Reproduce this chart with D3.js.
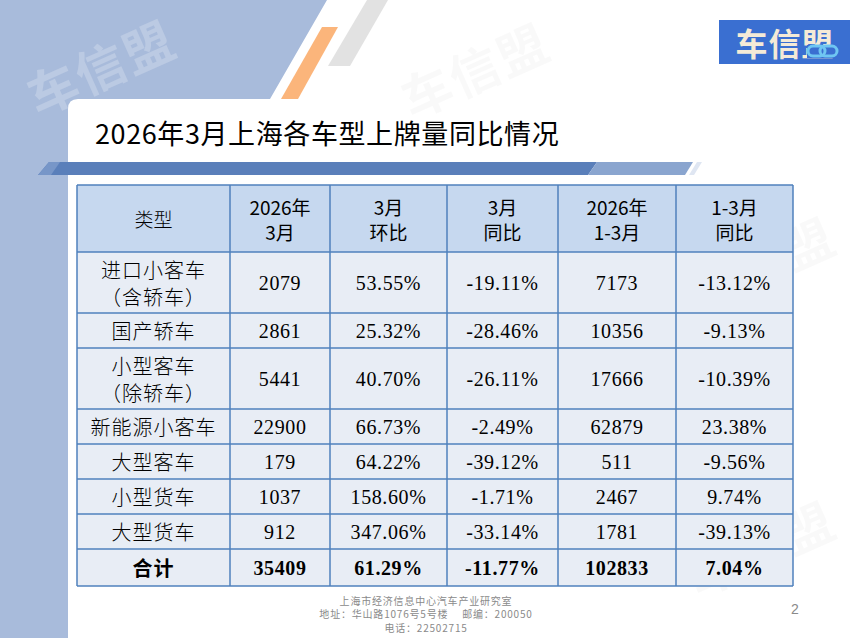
<!DOCTYPE html>
<html lang="zh">
<head>
<meta charset="UTF-8">
<title>2026年3月上海各车型上牌量同比情况</title>
<script src="https://cdn.jsdelivr.net/npm/d3@7/dist/d3.min.js"></script>
<style>
	body { margin: 0; background: #fff; }
	svg { display: block; }
	.cjk { font-family: "Noto Sans CJK SC", "Noto Sans", sans-serif; }
	.num { font-family: "Liberation Serif", "Times New Roman", serif; }
</style>
</head>
<body>
<div id="container"></div>
<script>
	// table data
	var title = "2026年3月上海各车型上牌量同比情况";
	var headers = [["类型"], ["2026年", "3月"], ["3月", "环比"], ["3月", "同比"], ["2026年", "1-3月"], ["1-3月", "同比"]];
	var categories = [["进口小客车", "（含轿车）"], ["国产轿车"], ["小型客车", "（除轿车）"], ["新能源小客车"],
		["大型客车"], ["小型货车"], ["大型货车"], ["合计"]];
	var marCount = [2079, 2861, 5441, 22900, 179, 1037, 912, 35409];
	var marMoM = [53.55, 25.32, 40.70, 66.73, 64.22, 158.60, 347.06, 61.29];
	var marYoY = [-19.11, -28.46, -26.11, -2.49, -39.12, -1.71, -33.14, -11.77];
	var ytdCount = [7173, 10356, 17666, 62879, 511, 2467, 1781, 102833];
	var ytdYoY = [-13.12, -9.13, -10.39, 23.38, -9.56, 9.74, -39.13, 7.04];
	var footer = ["上海市经济信息中心汽车产业研究室", "地址：华山路1076号5号楼　 邮编：200050", "电话：22502715"];
	var pageNo = "2";

	var width = 850, height = 638;
	var svg = d3.select("#container").append("svg")
		.attr("width", width)
		.attr("height", height);

	// slide background
	svg.append("rect").attr("width", width).attr("height", height).attr("fill", "#fff");
	svg.append("polygon")
		.attr("points", [[0, 0], [327, 0], [270, 99], [270, height], [0, height]].join(" "))
		.attr("fill", "#a8bbdb");
	svg.append("polygon")
		.attr("points", [[367, 0], [388, 0], [350, 66], [328, 66]].join(" "))
		.attr("fill", "#e2e2e2");
	svg.append("polygon")
		.attr("points", [[322, 27], [338, 27], [298, 99], [281, 99]].join(" "))
		.attr("fill", "#fbb57b");

	function watermark(cx, cy, fill, op) {
		svg.append("text")
			.attr("class", "cjk")
			.attr("transform", "translate(" + cx + "," + cy + ") rotate(-24)")
			.attr("text-anchor", "middle")
			.attr("dominant-baseline", "central")
			.attr("font-size", 50)
			.attr("font-weight", "bold")
			.attr("letter-spacing", 2)
			.attr("fill", fill)
			.attr("fill-opacity", op)
			.text("车信盟");
	}
	watermark(100, 65, "#ffffff", 0.22);

	// white card with rounded top-left corner
	var r = 10;
	svg.append("path")
		.attr("d", "M68," + height + " L68," + (99 + r) + " Q68,99 " + (68 + r) + ",99 L" + width + ",99 L" + width + "," + height + " Z")
		.attr("fill", "#fff");

	watermark(474, 68, "#000", 0.022);
	watermark(760, 262, "#000", 0.022);
	watermark(760, 546, "#000", 0.022);

	// logo
	var logo = svg.append("g");
	logo.append("rect").attr("x", 719).attr("y", 20).attr("width", 131).attr("height", 44).attr("fill", "#3a6fd1");
	logo.append("text")
		.attr("class", "cjk")
		.attr("x", 785).attr("y", 42)
		.attr("text-anchor", "middle")
		.attr("dominant-baseline", "central")
		.attr("font-size", 32)
		.attr("font-weight", "bold")
		.attr("letter-spacing", 1)
		.attr("fill", "#f4ead7")
		.text("车信盟");
	logo.append("rect").attr("x", 807).attr("y", 45).attr("width", 36).attr("height", 13).attr("fill", "#3a6fd1");
	logo.append("rect").attr("x", 808).attr("y", 46).attr("width", 17).attr("height", 10).attr("rx", 5)
		.attr("fill", "none").attr("stroke", "#6fc6f2").attr("stroke-width", 3);
	logo.append("rect").attr("x", 820).attr("y", 46).attr("width", 17).attr("height", 10).attr("rx", 5)
		.attr("fill", "none").attr("stroke", "#6fc6f2").attr("stroke-width", 3);

	// title
	svg.append("text")
		.attr("class", "cjk")
		.attr("x", 95).attr("y", 144)
		.attr("font-size", 27)
		.attr("letter-spacing", 0.6)
		.attr("fill", "#000")
		.text(title);

	// title band
	svg.append("polygon")
		.attr("points", [[49, 162], [597, 162], [588, 175], [38, 175]].join(" "))
		.attr("fill", "#5a7fba");
	svg.append("polygon")
		.attr("points", [[49, 162], [60, 162], [51, 175], [38, 175]].join(" "))
		.attr("fill", "#7796c8");
	svg.append("polygon")
		.attr("points", [[597, 162], [693, 162], [685, 175], [588, 175]].join(" "))
		.attr("fill", "#8aa5cf");
	svg.append("polygon")
		.attr("points", [[697, 162], [702, 162], [694, 175], [689, 175]].join(" "))
		.attr("fill", "#dfe6f2");

	// table geometry
	var colWidths = [153, 100, 117, 111, 118, 117];
	var tableX = 77, tableY = 185;
	var colEdges = [tableX].concat(Array.from(d3.cumsum(colWidths), function(d) { return tableX + d; }));

	var rows = categories.map(function(c, i) {
		return {
			cells: [c, [String(marCount[i])], [marMoM[i].toFixed(2) + "%"], [marYoY[i].toFixed(2) + "%"],
				[String(ytdCount[i])], [ytdYoY[i].toFixed(2) + "%"]],
			lines: c.length,
			total: i === categories.length - 1
		};
	});
	var rowHeights = [67].concat(rows.map(function(d) { return d.lines > 1 ? 61 : (d.total ? 37 : 35); }));
	var rowEdges = [tableY].concat(Array.from(d3.cumsum(rowHeights), function(d) { return tableY + d; }));

	var x = function(j) { return colEdges[j]; };
	var y = function(i) { return rowEdges[i]; };

	var table = svg.append("g");

	// fills
	table.append("rect")
		.attr("x", x(0)).attr("y", y(0))
		.attr("width", x(6) - x(0)).attr("height", y(1) - y(0))
		.attr("fill", "#c6d8ef");
	table.append("rect")
		.attr("x", x(0)).attr("y", y(1))
		.attr("width", x(6) - x(0)).attr("height", y(rows.length + 1) - y(1))
		.attr("fill", "#e8edf5");

	// grid lines
	table.selectAll("line.h").data(rowEdges).enter().append("line")
		.attr("class", "h")
		.attr("x1", x(0)).attr("x2", x(6))
		.attr("y1", function(d) { return d; }).attr("y2", function(d) { return d; })
		.attr("stroke", "#4f81bd").attr("stroke-width", 1.5);
	table.selectAll("line.v").data(colEdges).enter().append("line")
		.attr("class", "v")
		.attr("x1", function(d) { return d; }).attr("x2", function(d) { return d; })
		.attr("y1", y(0)).attr("y2", y(rows.length + 1))
		.attr("stroke", "#4f81bd").attr("stroke-width", 1.5);

	function cellText(g, lines, cx, cy, lineH) {
		lines.forEach(function(t, k) {
			g.append("text")
				.attr("x", cx)
				.attr("y", cy + (k - (lines.length - 1) / 2) * lineH)
				.attr("text-anchor", "middle")
				.attr("dominant-baseline", "central")
				.text(t);
		});
	}

	// header
	var head = table.append("g").attr("class", "cjk").attr("font-size", 19).attr("fill", "#000");
	headers.forEach(function(h, j) {
		var g = head.append("g").attr("font-weight", j === 0 ? 300 : "normal");
		cellText(g, h, (x(j) + x(j + 1)) / 2, (y(0) + y(1)) / 2, 25);
	});

	// body
	rows.forEach(function(row, i) {
		var cy = (y(i + 1) + y(i + 2)) / 2;
		row.cells.forEach(function(c, j) {
			var g = table.append("g")
				.attr("class", j === 0 ? "cjk" : "num")
				.attr("font-size", 20)
				.attr("letter-spacing", j === 0 ? 1 : 0.6)
				.attr("font-weight", row.total ? "bold" : (j === 0 ? 300 : "normal"))
				.attr("fill", "#000");
			cellText(g, c, (x(j) + x(j + 1)) / 2, cy, 27);
		});
	});

	// footer
	svg.append("g").attr("class", "cjk").attr("font-size", 10).attr("letter-spacing", 0.8).attr("fill", "#8a8a8a")
		.selectAll("text").data(footer).enter().append("text")
		.attr("x", 426)
		.attr("y", function(d, i) { return 600 + i * 13.5; })
		.attr("text-anchor", "middle")
		.attr("dominant-baseline", "central")
		.text(function(d) { return d; });

	svg.append("text")
		.attr("x", 795).attr("y", 609)
		.attr("text-anchor", "middle")
		.attr("dominant-baseline", "central")
		.attr("font-family", "Liberation Sans, sans-serif")
		.attr("font-size", 14)
		.attr("fill", "#8a8a8a")
		.text(pageNo);
</script>
</body>
</html>
